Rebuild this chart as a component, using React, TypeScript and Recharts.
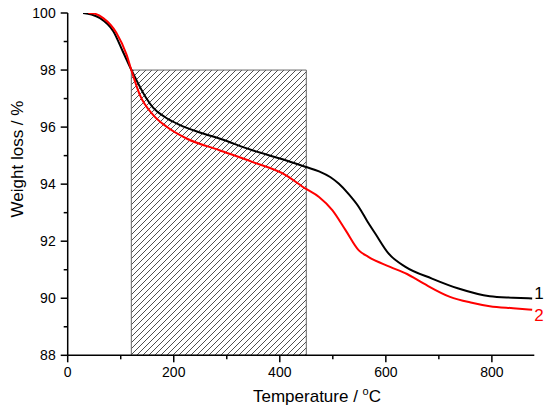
import React from "react";
import { LineChart, Line, XAxis, YAxis, ReferenceArea, Label } from "recharts";

// sample 1 (black)
const temp1 = [29, 45, 61, 86, 104, 120, 148, 161, 186, 211, 248, 286, 348, 411, 448, 474, 495, 511, 530, 549, 565, 580, 605, 637, 687, 737, 796, 840, 876];
const weight1 = [100, 99.95, 99.82, 99.36, 98.65, 98.01, 97.02, 96.68, 96.32, 96.08, 95.82, 95.6, 95.19, 94.84, 94.61, 94.45, 94.25, 94.02, 93.65, 93.2, 92.7, 92.27, 91.57, 91.1, 90.69, 90.34, 90.07, 90.02, 89.99];

// sample 2 (red)
const temp2 = [39, 52, 67, 92, 111, 120, 136, 161, 186, 224, 286, 348, 411, 448, 474, 499, 524, 549, 567, 608, 640, 671, 721, 760, 796, 840, 876];
const weight2 = [100, 99.97, 99.82, 99.3, 98.54, 98.0, 97.13, 96.43, 96.02, 95.6, 95.19, 94.78, 94.32, 93.85, 93.55, 93.09, 92.39, 91.68, 91.45, 91.1, 90.85, 90.52, 90.05, 89.85, 89.72, 89.65, 89.6];

const xTicks = [0, 100, 200, 300, 400, 500, 600, 700, 800];
const yTicks = [88, 89, 90, 91, 92, 93, 94, 95, 96, 97, 98, 99, 100];

// hatched region
const regionT = [120, 450];
const regionW = [88, 98];

const series1 = temp1.map((t, i) => ({ t, w: weight1[i] }));
const series2 = temp2.map((t, i) => ({ t, w: weight2[i] }));

const FONT = "Liberation Sans, Arial, sans-serif";

function renderXTick(props: any) {
  const { x, y, payload } = props;
  const major = payload.value % 200 === 0;
  return (
    <g key={`xt-${payload.value}`}>
      <line x1={x} x2={x} y1={y} y2={y + (major ? 7 : 4)} stroke="#000" strokeWidth={1.5} />
      {major && (
        <text x={x} y={y + 22} textAnchor="middle" fontSize={14} fill="#000" fontFamily={FONT}>
          {payload.value}
        </text>
      )}
    </g>
  );
}

function renderYTick(props: any) {
  const { x, y, payload } = props;
  const major = payload.value % 2 === 0;
  return (
    <g key={`yt-${payload.value}`}>
      <line x1={x} x2={x - (major ? 7 : 4)} y1={y} y2={y} stroke="#000" strokeWidth={1.5} />
      {major && (
        <text x={x - 12} y={y + 5} textAnchor="end" fontSize={14} fill="#000" fontFamily={FONT}>
          {payload.value}
        </text>
      )}
    </g>
  );
}

function endLabel(text: string, color: string, last: number, dy: number) {
  return (props: any) =>
    props.index === last ? (
      <text key={text} x={props.x + 2} y={props.y + dy} fontSize={17} fill={color} fontFamily={FONT}>
        {text}
      </text>
    ) : null;
}

export default function App() {
  return (
    <div style={{ position: "absolute", left: 0, top: 0, background: "#fff" }}>
      <LineChart width={550} height={410} margin={{ top: 13, right: 15.7, left: 7.7, bottom: 24.7 }}>
        <defs>
          <pattern id="hatch" patternUnits="userSpaceOnUse" width={6} height={6}>
            <path d="M0,6 L6,0 M-1,1 L1,-1 M5,7 L7,5" stroke="#222" strokeWidth={0.8} />
          </pattern>
        </defs>
        <XAxis
          type="number"
          dataKey="t"
          domain={[0, 880]}
          ticks={xTicks}
          interval={0}
          allowDataOverflow
          height={30}
          tickSize={0}
          tickMargin={0}
          tickLine={false}
          tick={renderXTick}
          axisLine={{ stroke: "#000", strokeWidth: 1.5 }}
        >
          <Label
            content={() => (
              <text x={317} y={401.7} textAnchor="middle" fontSize={17} fill="#000" fontFamily={FONT}>
                Temperature /{" "}
                <tspan fontSize={11} dy={-7}>o</tspan>
                <tspan dy={7}>C</tspan>
              </text>
            )}
          />
        </XAxis>
        <YAxis
          type="number"
          dataKey="w"
          domain={[88, 100]}
          ticks={yTicks}
          interval={0}
          allowDataOverflow
          width={60}
          tickSize={0}
          tickMargin={0}
          tickLine={false}
          tick={renderYTick}
          axisLine={{ stroke: "#000", strokeWidth: 1.5 }}
        >
          <Label
            content={() => (
              <text
                x={22.7}
                y={159}
                transform="rotate(-90 22.7 159)"
                textAnchor="middle"
                fontSize={17}
                fill="#000"
                fontFamily={FONT}
              >
                Weight loss / %
              </text>
            )}
          />
        </YAxis>
        <ReferenceArea
          x1={regionT[0]}
          x2={regionT[1]}
          y1={regionW[0]}
          y2={regionW[1]}
          fill="url(#hatch)"
          fillOpacity={1}
          stroke="#666"
          strokeWidth={1}
          ifOverflow="visible"
        />
        <Line
          data={series1}
          dataKey="w"
          type="monotone"
          stroke="#000"
          strokeWidth={2}
          dot={false}
          isAnimationActive={false}
          label={endLabel("1", "#000", series1.length - 1, 0.7)}
        />
        <Line
          data={series2}
          dataKey="w"
          type="monotone"
          stroke="#ff0000"
          strokeWidth={2}
          dot={false}
          isAnimationActive={false}
          label={endLabel("2", "#ff0000", series2.length - 1, 11)}
        />
      </LineChart>
    </div>
  );
}
